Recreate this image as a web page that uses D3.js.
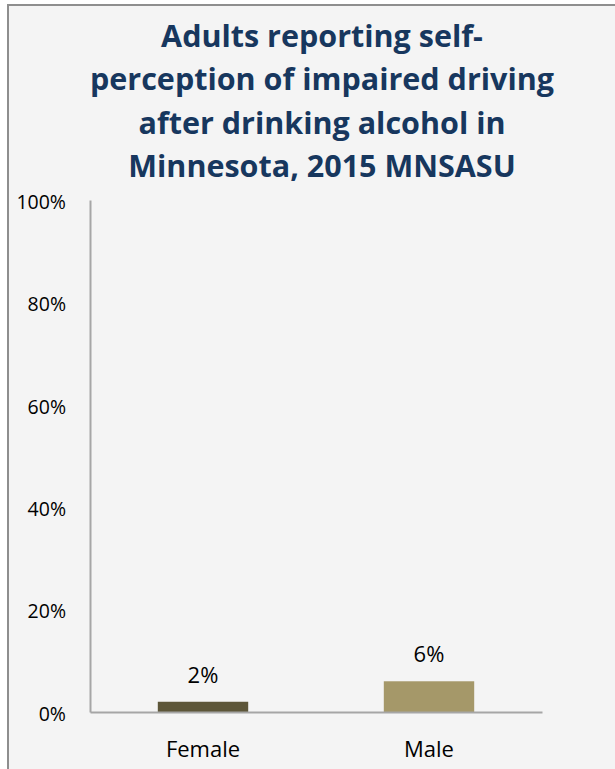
<!DOCTYPE html>
<html>
<head>
<meta charset="utf-8">
<script src="https://cdn.jsdelivr.net/npm/d3@7"></script>
<style>
  html, body { margin: 0; padding: 0; background: #ffffff; }
  svg { display: block; }
</style>
</head>
<body>
<div id="chart"></div>
<script>
// Survey results: percent of adults by sex
const categories = ["Female", "Male"];
const values = [2, 6];
const barColors = ["#5D5639", "#A59869"];
const yTicks = [0, 20, 40, 60, 80, 100];
const titleLines = [
  "Adults reporting self-",
  "perception of impaired driving",
  "after drinking alcohol in",
  "Minnesota, 2015 MNSASU"
];

const W = 615, H = 769;
const font = "'Open Sans', Lato, sans-serif";

const svg = d3.select("#chart").append("svg")
  .attr("width", W).attr("height", H);

// chart frame
svg.append("rect")
  .attr("x", 8).attr("y", 5)
  .attr("width", W + 10).attr("height", H + 10)
  .attr("fill", "#F4F4F4")
  .attr("stroke", "#8E8E8E")
  .attr("stroke-width", 2);

// title
svg.append("g").selectAll("text")
  .data(titleLines)
  .join("text")
  .attr("x", 322)
  .attr("y", (d, i) => 47 + i * 43.3)
  .attr("text-anchor", "middle")
  .attr("font-family", font)
  .attr("font-weight", "bold")
  .attr("font-size", 30.5)
  .attr("fill", "#17375E")
  .text(d => d);

const x = d3.scaleBand()
  .domain(categories)
  .range([90, 542])
  .paddingInner(0.6)
  .paddingOuter(0.3);

const y = d3.scaleLinear()
  .domain([0, 100])
  .range([712, 200]);

// y axis
const yAxis = svg.append("g")
  .attr("transform", "translate(90,0)")
  .call(d3.axisLeft(y).tickValues(yTicks).tickFormat(d => d + "%").tickSize(0).tickPadding(24));
yAxis.select(".domain").attr("stroke", "#A6A6A6").attr("stroke-width", 2);
yAxis.selectAll("text")
  .attr("font-family", font)
  .attr("font-size", 19.5)
  .attr("dy", "0.42em")
  .attr("fill", "#000");

// bars
svg.append("g").selectAll("rect")
  .data(values)
  .join("rect")
  .attr("x", (d, i) => x(categories[i]))
  .attr("y", d => y(d))
  .attr("width", x.bandwidth())
  .attr("height", d => y(0) - y(d))
  .attr("fill", (d, i) => barColors[i]);

// value labels
svg.append("g").selectAll("text")
  .data(values)
  .join("text")
  .attr("x", (d, i) => x(categories[i]) + x.bandwidth() / 2)
  .attr("y", d => y(d) - 19)
  .attr("text-anchor", "middle")
  .attr("font-family", font)
  .attr("font-size", 22)
  .attr("fill", "#000")
  .text(d => d + "%");

// x axis
const xAxis = svg.append("g")
  .attr("transform", "translate(0," + y(0) + ")")
  .call(d3.axisBottom(x).tickSize(0).tickPadding(29));
xAxis.select(".domain").attr("stroke", "#A6A6A6").attr("stroke-width", 2);
xAxis.selectAll("text")
  .attr("font-family", font)
  .attr("font-size", 22)
  .attr("fill", "#000");
</script>
</body>
</html>
